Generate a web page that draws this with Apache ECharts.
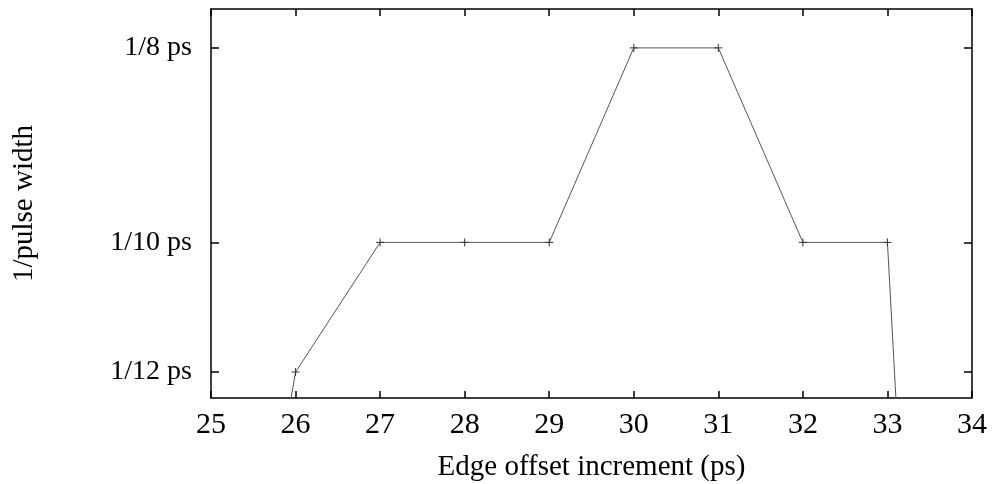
<!DOCTYPE html>
<html><head><meta charset="utf-8">
<script src="https://cdn.jsdelivr.net/npm/echarts@6/dist/echarts.min.js"></script>
<style>html,body{margin:0;padding:0;background:#fff}#c{width:992px;height:484px}</style>
</head><body><div id="c"></div>
<script>
// Edge offset increment (ps)
const xValues = [25, 26, 27, 28, 29, 30, 31, 32, 33, 33.5];
// 1/pulse width (1/ps); points outside the frame are clipped
const yValues = [0.02, 1/12, 1/10, 1/10, 1/10, 1/8, 1/8, 1/10, 1/10, 0];
// which points carry a '+' marker
const marked = [false, true, true, true, true, true, true, true, true, false];
const yTickValues = [1/12, 1/10, 1/8];
const yTickLabels = ['1/12 ps', '1/10 ps', '1/8 ps'];
const xTitle = 'Edge offset increment (ps)';
const yTitle = '1/pulse width';

const font = '"Liberation Serif", "DejaVu Serif", serif';
const chart = echarts.init(document.getElementById('c'));
const data = xValues.map((x, i) => ({
  value: [x, yValues[i]],
  symbolSize: marked[i] ? 8 : 0
}));
const labelFor = v => {
  for (let i = 0; i < yTickValues.length; i++) if (Math.abs(v - yTickValues[i]) < 1e-6) return yTickLabels[i];
  return '';
};
const axisLine = {show: true, lineStyle: {color: '#000', width: 1.5}};
chart.setOption({
  animation: false,
  grid: {left: 211, right: 20, top: 9, bottom: 86, containLabel: false, outerBoundsMode: 'none'},
  xAxis: [{
    type: 'value', min: 25, max: 34, interval: 1,
    axisLine, axisTick: {show: true, inside: true, length: 7, lineStyle: {color: '#000', width: 1.5}},
    splitLine: {show: false},
    axisLabel: {fontFamily: font, fontSize: 30, color: '#000', margin: 12},
    name: xTitle, nameLocation: 'middle', nameGap: 55,
    nameTextStyle: {fontFamily: font, fontSize: 29, color: '#000'}
  }, {
    type: 'value', min: 25, max: 34, interval: 1, position: 'top',
    axisLine, axisTick: {show: true, inside: true, length: 7, lineStyle: {color: '#000', width: 1.5}},
    axisLabel: {show: false}, splitLine: {show: false}
  }],
  yAxis: [{
    type: 'value', min: 0.08, max: 0.13,
    customValues: yTickValues,
    axisLine, axisTick: {show: true, inside: true, length: 8, customValues: yTickValues, lineStyle: {color: '#000', width: 1.5}},
    splitLine: {show: false},
    axisLabel: {fontFamily: font, fontSize: 28, color: '#000', margin: 19, customValues: yTickValues, formatter: labelFor},
    name: yTitle, nameLocation: 'middle', nameGap: 172, nameRotate: 90,
    nameTextStyle: {fontFamily: font, fontSize: 29, color: '#000'}
  }, {
    type: 'value', min: 0.08, max: 0.13, position: 'right',
    axisLine, axisTick: {show: true, inside: true, length: 8, customValues: yTickValues, lineStyle: {color: '#000', width: 1.5}},
    axisLabel: {show: false}, splitLine: {show: false}
  }],
  series: [{
    type: 'line', xAxisIndex: 0, yAxisIndex: 0,
    data: data,
    clip: true,
    symbol: 'path://M0,5L10,5M5,0L5,10',
    lineStyle: {color: '#555', width: 1},
    itemStyle: {color: 'none', borderColor: '#333', borderWidth: 1}
  }]
});
</script></body></html>
